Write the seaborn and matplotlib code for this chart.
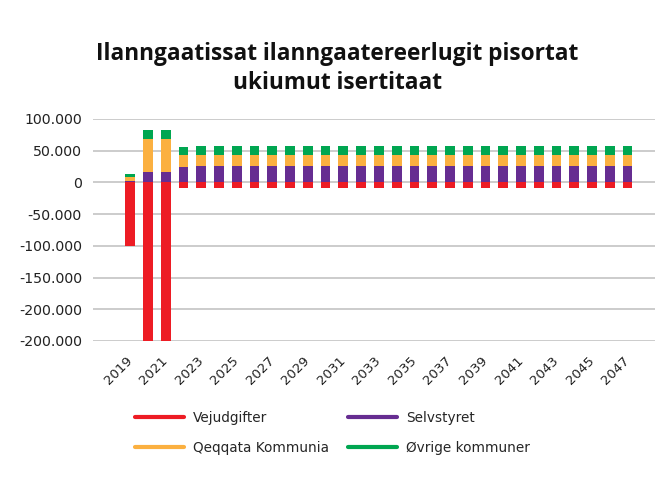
import matplotlib
matplotlib.use("Agg")
import matplotlib.pyplot as plt
from matplotlib.lines import Line2D
import seaborn as sns
import pandas as pd
import numpy as np

years = list(range(2019, 2048))
vejudgifter = [-100000, -250000, -250000] + [-8000] * 26
selvstyret = [3000, 16000, 16000, 24000] + [26000] * 25
qeqqata = [6000, 52000, 52000, 19000] + [18000] * 25
ovrige = [4000, 14000, 14000, 13000] + [13000] * 25

ytick_vals = [100000, 50000, 0, -50000, -100000, -150000, -200000, -250000]
ytick_labels = ["100.000", "50.000", "0", "-50.000", "-100.000", "-150.000", "-200.000", "-200.000"]

title = "Ilanngaatissat ilanngaatereerlugit pisortat\nukiumut isertitaat"
colors = {"Vejudgifter": "#ED1C24", "Selvstyret": "#662D91",
          "Qeqqata Kommunia": "#FBB040", "Øvrige kommuner": "#00A651"}

sns.set_theme(style="white")
plt.rcParams["font.family"] = ["DejaVu Sans"]

df = pd.DataFrame({
    "year": [str(y) for y in years],
    "Vejudgifter": vejudgifter,
    "Selvstyret": selvstyret,
    "Qeqqata Kommunia": qeqqata,
    "Øvrige kommuner": ovrige,
})
df["cum1"] = df["Selvstyret"]
df["cum2"] = df["cum1"] + df["Qeqqata Kommunia"]
df["cum3"] = df["cum2"] + df["Øvrige kommuner"]

fig = plt.figure(figsize=(6.58, 4.87), dpi=100)
ax = fig.add_axes([93 / 658, 1 - 341 / 487, (655 - 93) / 658, (341 - 119) / 487])

order = df["year"].tolist()
w = 0.55
for col, name in [("cum3", "Øvrige kommuner"), ("cum2", "Qeqqata Kommunia"),
                  ("cum1", "Selvstyret"), ("Vejudgifter", "Vejudgifter")]:
    sns.barplot(data=df, x="year", y=col, order=order, color=colors[name],
                width=w, saturation=1, ax=ax, zorder=3, linewidth=0)

ax.set_ylim(-250000, 100000)
ax.set_xlim(-2.1, 29.55)
ax.set_yticks(ytick_vals)
ax.set_yticklabels(ytick_labels, fontsize=10.2, color="#222222")
ax.yaxis.grid(True, color="#c8c8c8", linewidth=1.3, zorder=0)
ax.set_axisbelow(True)
for s in ax.spines.values():
    s.set_visible(False)
ax.tick_params(axis="y", length=0, pad=8)
ax.set_xlabel("")
ax.set_ylabel("")

xt = list(range(0, len(years), 2))
ax.set_xticks(xt)
ax.set_xticklabels([order[i] for i in xt], rotation=45, ha="right", va="center",
                   rotation_mode="anchor", fontsize=9.5, color="#222222")
ax.tick_params(axis="x", length=0, pad=12.6)

fig.text(0.513, 1 - 89 / 487, title, ha="center", va="baseline",
         fontsize=16.3, fontweight="bold", family=["Open Sans", "DejaVu Sans"],
         linespacing=1.28, color="#111111")

leg_order = ["Vejudgifter", "Qeqqata Kommunia", "Selvstyret", "Øvrige kommuner"]
handles = [Line2D([0], [0], color=colors[n], lw=3, solid_capstyle="round") for n in leg_order]
fig.legend(handles, leg_order, loc="upper left", bbox_to_anchor=(135 / 658, 1 - 411 / 487),
           ncol=2, frameon=False, fontsize=9.8, handlelength=3.6, handletextpad=0.66,
           columnspacing=1.4, labelspacing=1.15, borderpad=0, borderaxespad=0)

fig.savefig("out.png", dpi=100)
